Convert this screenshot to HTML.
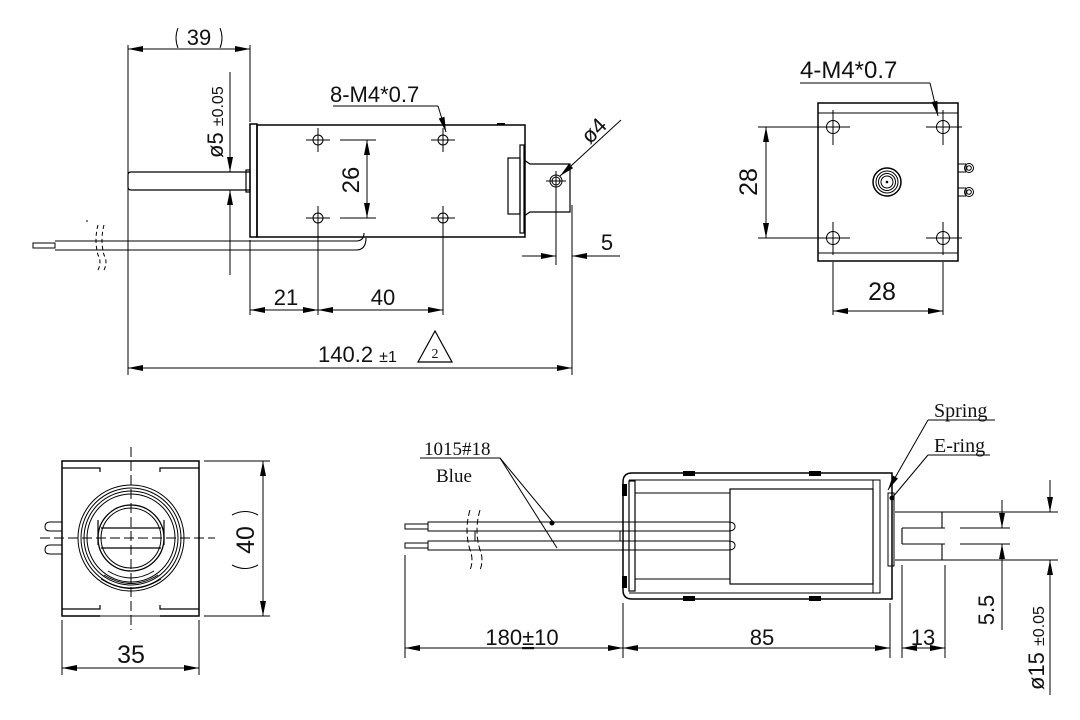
<!DOCTYPE html>
<html><head><meta charset="utf-8"><style>
html,body{margin:0;padding:0;background:#fff}
svg{display:block}
text{font-family:"Liberation Sans",sans-serif;fill:#111}
.s{font-family:"Liberation Serif",serif}
</style></head><body>
<svg width="1080" height="720" viewBox="0 0 1080 720" xmlns="http://www.w3.org/2000/svg">
<defs>
<marker id="a" viewBox="0 0 10 4" refX="10" refY="2" markerWidth="16" markerHeight="6" markerUnits="userSpaceOnUse" orient="auto-start-reverse"><path d="M0,0L10,2L0,4z" fill="#000"/></marker>
</defs>
<g stroke="#000" stroke-width="1" fill="none">
<line x1="128" y1="45" x2="128" y2="375"/>
<line x1="250" y1="45" x2="250" y2="122"/>
<line x1="128" y1="49" x2="250" y2="49" marker-start="url(#a)" marker-end="url(#a)"/>
<path d="M178,28 Q174,38 178,48 M220,28 Q224,38 220,48"/>
<rect x="250" y="124" width="7" height="113" stroke-width="1.5"/>
<rect x="257" y="125" width="268" height="112" stroke-width="1.5"/>
<line x1="497" y1="124" x2="505" y2="124" stroke-width="2"/>
<path d="M250,172 H131 Q128,172 128,175 V187 Q128,190 131,190 H250" stroke-width="1.2"/>
<rect x="246" y="170" width="4" height="22" stroke-width="1.2"/>
<line x1="230" y1="72" x2="230" y2="172" marker-end="url(#a)"/>
<line x1="230" y1="275" x2="230" y2="190" marker-end="url(#a)"/>
<g>
<circle cx="318" cy="140" r="5"/><circle cx="443" cy="140" r="5"/>
<circle cx="318" cy="218" r="5"/><circle cx="443" cy="218" r="5"/>
<path d="M306,140H330M318,128V152M431,140H455M443,128V152M306,218H330M318,206V230M431,218H455M443,206V230"/>
</g>
<line x1="318" y1="230" x2="318" y2="315"/>
<line x1="443" y1="230" x2="443" y2="315"/>
<line x1="250" y1="240" x2="250" y2="315"/>
<line x1="340" y1="140" x2="376" y2="140"/><line x1="340" y1="218" x2="376" y2="218"/>
<line x1="367" y1="140" x2="367" y2="218" marker-start="url(#a)" marker-end="url(#a)"/>
<line x1="333" y1="106" x2="438" y2="106"/>
<line x1="438" y1="106" x2="446" y2="132" marker-end="url(#a)"/>
<rect x="520" y="145" width="4" height="88" stroke-width="1.2"/>
<rect x="508" y="158" width="12" height="56" stroke-width="1.2"/>
<path d="M524,160 L530,164 H570 V212 H530 L524,216" stroke-width="1.2"/>
<circle cx="556" cy="181" r="6"/><circle cx="556" cy="181" r="4"/>
<path d="M546,181H566M556,171V191"/>
<line x1="621" y1="120" x2="560" y2="176" marker-end="url(#a)"/>
<line x1="556" y1="190" x2="556" y2="265"/>
<line x1="572" y1="205" x2="572" y2="375"/>
<line x1="522" y1="256" x2="556" y2="256" marker-end="url(#a)"/>
<line x1="620" y1="256" x2="572" y2="256" marker-end="url(#a)"/>
<path d="M55,241 H356 Q364,241 364,233 M55,250 H356 Q366,250 366,238 M358,237 H366" stroke-width="1.1"/>
<rect x="33" y="243" width="22" height="5" stroke-width="1"/>
<path d="M87,220V222M98,225 Q94,240 98,255 Q102,262 98,270 M104,225 Q100,240 104,255 Q108,262 104,270" stroke-dasharray="4,3"/>
<line x1="250" y1="310" x2="318" y2="310" marker-start="url(#a)" marker-end="url(#a)"/>
<line x1="318" y1="310" x2="443" y2="310" marker-start="url(#a)" marker-end="url(#a)"/>
<line x1="128" y1="368" x2="572" y2="368" marker-start="url(#a)" marker-end="url(#a)"/>
<path d="M418,362 L435,331 L452,362 Z" stroke-width="1.2"/>

<rect x="818" y="103" width="140" height="158" stroke-width="1.5"/>
<line x1="818" y1="113" x2="958" y2="113"/><line x1="818" y1="253" x2="958" y2="253"/>
<circle cx="833" cy="127" r="6.5"/><circle cx="943" cy="127" r="6.5"/>
<circle cx="833" cy="238" r="6.5"/><circle cx="943" cy="238" r="6.5"/>
<path d="M808,127H850M833,110V145M926,127H962M943,110V145M808,238H850M833,222V255M926,238H962M943,222V255"/>
<circle cx="887" cy="182" r="14" stroke-width="1.5"/><circle cx="887" cy="182" r="11"/><circle cx="887" cy="182" r="8.5"/><circle cx="887" cy="182" r="6"/>
<circle cx="887" cy="182" r="0.8" fill="#000"/>
<path d="M958,164 H966 M958,172 H966 M958,188 H966 M958,196 H966 M966,164 V172 M966,188 V196"/>
<circle cx="969" cy="168" r="4.5"/><circle cx="969" cy="168" r="2.3"/>
<circle cx="969" cy="192" r="4.5"/><circle cx="969" cy="192" r="2.3"/>
<line x1="758" y1="127" x2="810" y2="127"/><line x1="758" y1="238" x2="810" y2="238"/>
<line x1="766" y1="127" x2="766" y2="238" marker-start="url(#a)" marker-end="url(#a)"/>
<line x1="833" y1="262" x2="833" y2="315"/><line x1="943" y1="262" x2="943" y2="315"/>
<line x1="833" y1="311" x2="943" y2="311" marker-start="url(#a)" marker-end="url(#a)"/>
<line x1="800" y1="83" x2="930" y2="83"/>
<line x1="930" y1="83" x2="938" y2="116" marker-end="url(#a)"/>

<path d="M62,461 H199 V616 H62 Z" stroke-width="1.5"/>
<path d="M62,468 H100 V472 M199,468 H160 V472 M62,609 H100 V605 M199,609 H160 V605" stroke-width="1.2"/>
<line x1="100" y1="616" x2="160" y2="616" stroke="#888" stroke-width="2"/>
<circle cx="131" cy="538" r="53"/><circle cx="131" cy="538" r="50"/><circle cx="131" cy="538" r="47"/><circle cx="131" cy="538" r="44"/>
<circle cx="131" cy="538" r="33" stroke-width="1.3"/><circle cx="131" cy="538" r="30"/>
<path d="M101,528 H161 M101,548 H161" stroke-width="1.3"/>
<path d="M98,520 V545 M164,520 V545" stroke-width="1.2"/>
<path d="M108,571 Q131,585 154,571 M104,575 Q131,592 158,575 M101,579 Q131,598 161,579" />
<path d="M40,538 H215" stroke-dasharray="10,4"/>
<path d="M131,447 V630" stroke-dasharray="10,4"/>
<path d="M62,522 H50 Q45,522 45,527 Q45,531 50,531 H62 M62,545 H50 Q45,545 45,550 Q45,554 50,554 H62"/>
<line x1="204" y1="461" x2="270" y2="461"/><line x1="204" y1="616" x2="270" y2="616"/>
<line x1="263" y1="461" x2="263" y2="616" marker-start="url(#a)" marker-end="url(#a)"/>
<path d="M232,515 Q245,508 258,515 M232,565 Q245,572 258,565"/>
<line x1="62" y1="620" x2="62" y2="675"/><line x1="199" y1="620" x2="199" y2="675"/>
<line x1="62" y1="668" x2="199" y2="668" marker-start="url(#a)" marker-end="url(#a)"/>

<path d="M892,473 H632 Q623,473 623,482 V590 Q623,599 632,599 H892 Z" stroke-width="1.5"/>
<line x1="629" y1="480" x2="873" y2="480"/><line x1="629" y1="593" x2="873" y2="593"/>
<rect x="629" y="481" width="6" height="110" stroke-width="1.2"/>
<line x1="635" y1="493" x2="730" y2="493"/><line x1="635" y1="579" x2="730" y2="579"/>
<rect x="730" y="489" width="143" height="95" stroke-width="1.2"/>
<rect x="873" y="480" width="7" height="113"/>
<line x1="880" y1="480" x2="880" y2="593"/>
<rect x="888" y="493" width="6" height="73"/>
<g fill="#000" stroke="none">
<rect x="683" y="471" width="12" height="5"/><rect x="809" y="471" width="12" height="5"/>
<rect x="683" y="596" width="12" height="5"/><rect x="809" y="596" width="12" height="5"/>
<rect x="622" y="484" width="5" height="12"/><rect x="622" y="576" width="5" height="12"/>
</g>
<path d="M895,512 H980 M895,560 H980 M902,528 H945 M902,544 H945 M902,528 V544 M942,512 V528 M942,544 V560" stroke-width="1.1"/>
<path d="M428,522 H728 Q735,522 735,526.5 Q735,531 728,531 H428 Z M428,541 H728 Q735,541 735,545.5 Q735,550 728,550 H428 Z"/>
<rect x="405" y="524" width="23" height="5"/><rect x="405" y="543" width="23" height="5"/>
<line x1="475" y1="531" x2="475" y2="541"/><line x1="620" y1="531" x2="620" y2="541"/>
<path d="M470,510 Q464,530 470,550 Q474,560 470,570 M480,510 Q474,530 480,550 Q484,560 480,570" stroke-dasharray="6,3"/>
<line x1="420" y1="458" x2="500" y2="458"/>
<line x1="500" y1="458" x2="553" y2="522"/><line x1="500" y1="458" x2="557" y2="548"/>
<circle cx="552" cy="523" r="2" fill="#000"/>
<line x1="928" y1="420" x2="995" y2="420"/><line x1="928" y1="455" x2="990" y2="455"/>
<line x1="928" y1="420" x2="888" y2="490" marker-end="url(#a)"/>
<line x1="928" y1="455" x2="892" y2="498"/>
<circle cx="892" cy="498" r="2" fill="#000"/>
<line x1="405" y1="555" x2="405" y2="658"/><line x1="623" y1="603" x2="623" y2="658"/>
<line x1="890" y1="603" x2="890" y2="658"/><line x1="902" y1="565" x2="902" y2="658"/><line x1="945" y1="565" x2="945" y2="658"/>
<line x1="405" y1="648" x2="623" y2="648" marker-start="url(#a)" marker-end="url(#a)"/>
<line x1="623" y1="648" x2="890" y2="648" marker-start="url(#a)" marker-end="url(#a)"/>
<line x1="902" y1="648" x2="945" y2="648" marker-start="url(#a)" marker-end="url(#a)"/>
<line x1="945" y1="512" x2="1058" y2="512"/><line x1="945" y1="560" x2="1058" y2="560"/>
<line x1="960" y1="528" x2="1010" y2="528"/><line x1="960" y1="544" x2="1010" y2="544"/>
<line x1="1002" y1="500" x2="1002" y2="528" marker-end="url(#a)"/>
<line x1="1002" y1="630" x2="1002" y2="544" marker-end="url(#a)"/>
<line x1="1050" y1="480" x2="1050" y2="512" marker-end="url(#a)"/>
<line x1="1050" y1="695" x2="1050" y2="560" marker-end="url(#a)"/>
</g>
<text x="199" y="45" font-size="22" text-anchor="middle">39</text>
<text transform="translate(223,158) rotate(-90)" font-size="22">ø5 <tspan font-size="16">±0.05</tspan></text>
<text transform="translate(359,180) rotate(-90)" font-size="24" text-anchor="middle">26</text>
<text x="330" y="102" font-size="22">8-M4*0.7</text>
<text transform="translate(590,145) rotate(-45)" font-size="22">ø4</text>
<text x="607" y="250" font-size="22" text-anchor="middle">5</text>
<text x="286" y="305" font-size="22" text-anchor="middle">21</text>
<text x="383" y="305" font-size="22" text-anchor="middle">40</text>
<text x="318" y="362" font-size="22">140.2 <tspan font-size="16">±1</tspan></text>
<text x="435" y="358" font-size="14" text-anchor="middle" class="s">2</text>
<text x="800" y="78" font-size="24">4-M4*0.7</text>
<text transform="translate(757,182) rotate(-90)" font-size="25" text-anchor="middle">28</text>
<text x="882" y="300" font-size="25" text-anchor="middle">28</text>
<text transform="translate(254,540) rotate(-90)" font-size="25" text-anchor="middle">40</text>
<text x="131" y="663" font-size="25" text-anchor="middle">35</text>
<text x="424" y="455" font-size="19" class="s">1015#18</text>
<text x="436" y="482" font-size="19" class="s">Blue</text>
<text x="934" y="417" font-size="20" class="s">Spring</text>
<text x="934" y="452" font-size="20" class="s">E-ring</text>
<text x="522" y="645" font-size="22" text-anchor="middle">180<tspan text-decoration="underline">±</tspan>10</text>
<text x="762" y="645" font-size="22" text-anchor="middle">85</text>
<text x="923" y="645" font-size="22" text-anchor="middle">13</text>
<text transform="translate(994,610) rotate(-90)" font-size="22" text-anchor="middle">5.5</text>
<text transform="translate(1044,690) rotate(-90)" font-size="22">ø15 <tspan font-size="16">±0.05</tspan></text>
</svg>
</body></html>
